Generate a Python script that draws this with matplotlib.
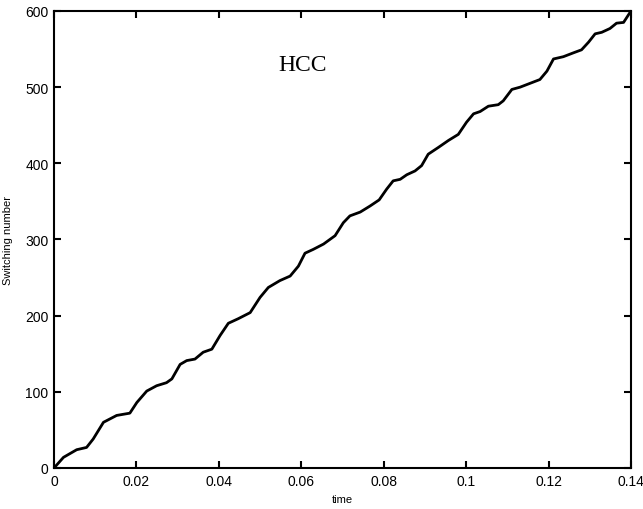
import matplotlib

matplotlib.use("Agg")
import matplotlib.pyplot as plt

# switching count over time
time = [
    0.0, 0.0023, 0.0055, 0.0079, 0.0095, 0.012, 0.0152, 0.0184, 0.0201, 0.0225,
    0.0249, 0.0273, 0.0286, 0.0306, 0.0322, 0.0342, 0.0362, 0.0383, 0.0403, 0.0423,
    0.0447, 0.0476, 0.05, 0.052, 0.0548, 0.0573, 0.0593, 0.0609, 0.0629, 0.0654,
    0.0682, 0.0702, 0.0718, 0.0743, 0.0767, 0.0789, 0.0807, 0.0823, 0.084, 0.0856,
    0.0876, 0.0892, 0.0908, 0.0933, 0.0957, 0.0981, 0.1001, 0.1018, 0.1034, 0.1054,
    0.1078, 0.109, 0.1111, 0.1131, 0.1155, 0.1179, 0.1196, 0.1212, 0.1236, 0.126,
    0.128, 0.1297, 0.1313, 0.1329, 0.1349, 0.1365, 0.1382, 0.14,
]
switching = [
    0, 14, 24, 27, 38, 60, 69, 72, 86, 101,
    108, 112, 117, 136, 141, 143, 152, 156, 174, 190,
    196, 204, 224, 237, 246, 252, 265, 282, 287, 294,
    305, 322, 331, 336, 344, 352, 366, 377, 379, 385,
    390, 397, 412, 421, 430, 438, 454, 465, 468, 475,
    477, 482, 497, 500, 505, 510, 521, 537, 540, 545,
    549, 559, 570, 572, 577, 584, 585, 600,
]

plt.rcParams["font.family"] = ["Liberation Sans", "DejaVu Sans"]

fig = plt.figure(figsize=(6.43, 5.10), dpi=100)
ax = fig.add_axes([0.084, 0.0804, 0.8973, 0.8961])

ax.plot(time, switching, color="black", linewidth=2.0, solid_joinstyle="round")

ax.set_xlim(0, 0.14)
ax.set_ylim(0, 600)
ax.set_xticks([0, 0.02, 0.04, 0.06, 0.08, 0.1, 0.12, 0.14])
ax.set_xticklabels(["0", "0.02", "0.04", "0.06", "0.08", "0.1", "0.12", "0.14"])
ax.set_yticks([0, 100, 200, 300, 400, 500, 600])
ax.tick_params(direction="in", length=5, width=1.5, labelsize=10,
               top=True, right=True, pad=4)
for spine in ax.spines.values():
    spine.set_linewidth(1.5)

ax.set_xlabel("time", fontsize=8, labelpad=5)
ax.set_ylabel("Switching number", fontsize=8, labelpad=9)

ax.text(0.0603, 530, "HCC", fontsize=17, family="Liberation Serif",
        ha="center", va="center")

fig.savefig("out.png", dpi=100)
